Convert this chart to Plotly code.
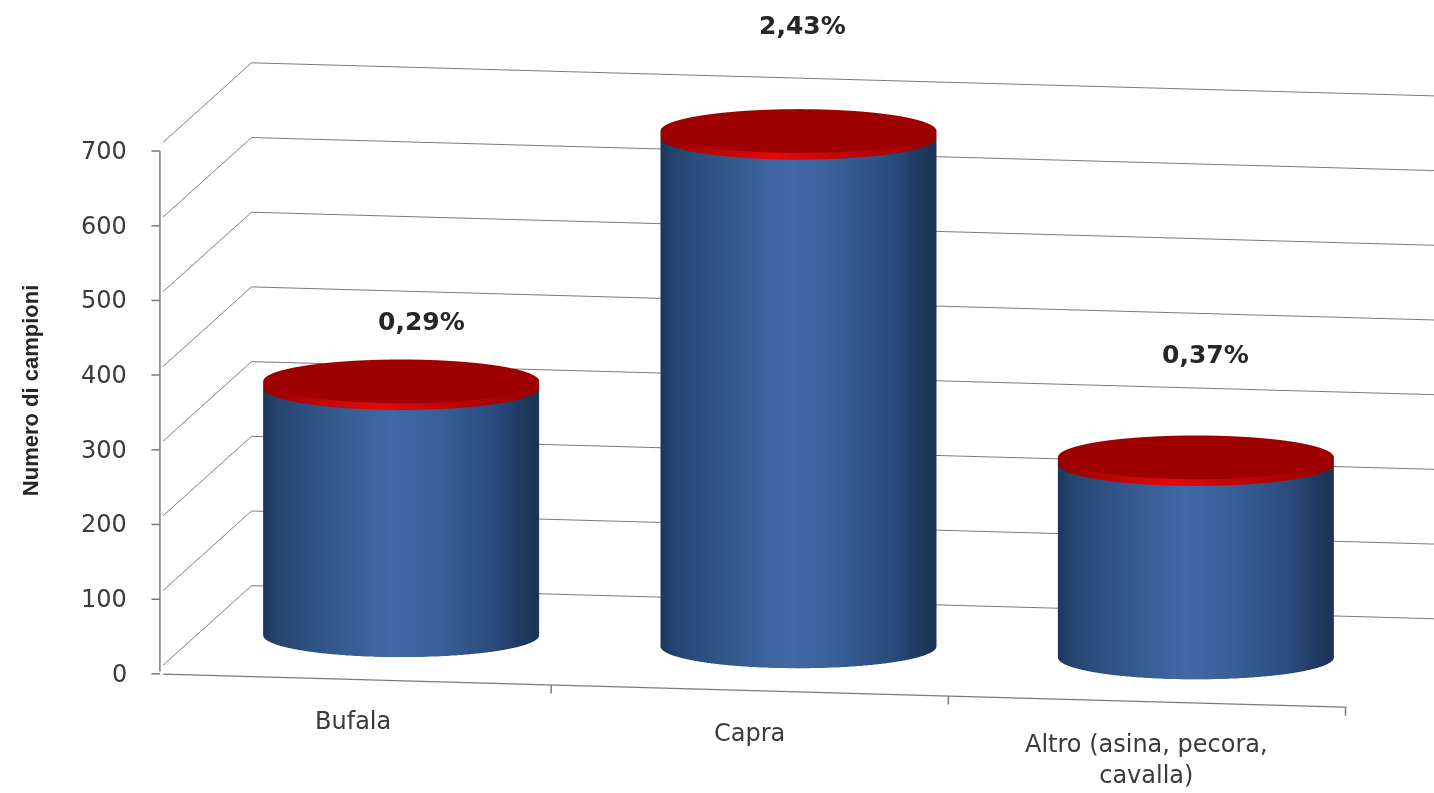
import numpy as np
import plotly.graph_objects as go

# --- data -------------------------------------------------------------
categories = ["Bufala", "Capra", "Altro (asina, pecora,<br>cavalla)"]
campioni = [340, 690, 268]
percentuali = ["0,29%", "2,43%", "0,37%"]
z_ticks = [0, 100, 200, 300, 400, 500, 600, 700]

# --- geometry / styling -------------------------------------------------
RADIUS = 0.342          # cylinder radius, in category units
DEPTH = 1.4             # floor depth, in category units
Y_MID = DEPTH / 2
RIM = 9                 # height of the bright red rim under the cap
TEXT = "#3a3a3a"
GRID = "#7a7a7a"
FONT = "DejaVu Sans"
label_lift = [43, 89, 86]   # pixel gap between cap centre and its value label
label_nudge = [20, 4, 10]   # horizontal nudge of the value labels
ZOOM = 1.572                # orthographic zoom is driven by the aspect ratio
WALL_PX = 522               # on-screen height of the value axis (0 to 700)

side_scale = [
    [0.00, "#1b3356"], [0.10, "#254671"], [0.30, "#325689"],
    [0.55, "#4069a5"], [0.72, "#395f98"], [0.90, "#2a4b7b"], [1.00, "#1c3457"],
]
rim_scale = [[0.0, "#8c0000"], [0.5, "#e40a0a"], [1.0, "#9a0000"]]
top_scale = [[0.0, "#9e0000"], [1.0, "#9e0000"]]
flat = dict(ambient=1.0, diffuse=0.0, specular=0.0, roughness=1.0, fresnel=0.0)

fig = go.Figure()
t = np.linspace(0, 2 * np.pi, 181)
horiz = (1 + np.cos(t)) / 2          # 0 at the left silhouette, 1 at the right

for i, val in enumerate(campioni):
    cx = i
    ring_x = cx + RADIUS * np.cos(t)
    ring_y = Y_MID + RADIUS * np.sin(t)

    # blue body
    zb = np.array([0.0, val - RIM])
    fig.add_trace(go.Surface(
        x=np.tile(ring_x, (2, 1)), y=np.tile(ring_y, (2, 1)),
        z=np.repeat(zb[:, None], t.size, axis=1),
        surfacecolor=np.tile(horiz, (2, 1)), cmin=0, cmax=1,
        colorscale=side_scale, showscale=False, lighting=flat,
        hoverinfo="skip"))

    # red rim just below the cap
    zr = np.array([val - RIM, val])
    fig.add_trace(go.Surface(
        x=np.tile(ring_x, (2, 1)), y=np.tile(ring_y, (2, 1)),
        z=np.repeat(zr[:, None], t.size, axis=1),
        surfacecolor=np.tile(horiz, (2, 1)), cmin=0, cmax=1,
        colorscale=rim_scale, showscale=False, lighting=flat,
        hoverinfo="skip"))

    # red cap
    rr = np.array([0.0, 1.0])[:, None]
    fig.add_trace(go.Surface(
        x=cx + RADIUS * rr * np.cos(t), y=Y_MID + RADIUS * rr * np.sin(t),
        z=np.full((2, t.size), float(val)),
        surfacecolor=np.zeros((2, t.size)), cmin=0, cmax=1,
        colorscale=top_scale, showscale=False, lighting=flat,
        hoverinfo="skip"))

# floor outline
fig.add_trace(go.Scatter3d(
    x=[-0.5, 2.5, 2.5], y=[0, 0, DEPTH], z=[0, 0, 0],
    mode="lines", line=dict(color=GRID, width=2.5),
    hoverinfo="skip", showlegend=False))

# --- annotations --------------------------------------------------------
ann = []
tick_mark = dict(text="", showarrow=True, arrowhead=0, arrowwidth=1.5,
                 arrowcolor=GRID, standoff=0, startstandoff=0)
# value-axis line along the front-left edge
ann.append(dict(x=-0.5, y=0, z=z_ticks[-1], ax=0, ay=WALL_PX, xshift=6,
                **tick_mark))
for v in z_ticks:
    ann.append(dict(x=-0.5, y=0, z=v, text=str(v), showarrow=False,
                    xanchor="right", yanchor="middle", xshift=-25,
                    font=dict(family=FONT, size=24, color=TEXT)))
    ann.append(dict(x=-0.5, y=0, z=v, ax=-10, ay=0, xshift=6, **tick_mark))
for b in [0.5, 1.5, 2.5]:
    ann.append(dict(x=b, y=0, z=0, ax=0, ay=10, **tick_mark))
for i, c in enumerate(categories):
    ann.append(dict(x=i, y=0, z=0, text=c, showarrow=False,
                    xanchor="center", yanchor="top", yshift=-26,
                    font=dict(family=FONT, size=24, color=TEXT)))
for i, (val, p) in enumerate(zip(campioni, percentuali)):
    ann.append(dict(x=i, y=Y_MID, z=val, text="<b>" + p + "</b>", showarrow=False,
                    xanchor="center", yanchor="bottom", xshift=label_nudge[i],
                    yshift=label_lift[i],
                    font=dict(family=FONT, size=25, color="#262626")))

axis_common = dict(showbackground=False, zeroline=False, showspikes=False,
                   title=dict(text=""), showticklabels=False, ticks="",
                   showline=False)

fig.update_layout(
    width=1434, height=793,
    margin=dict(l=0, r=0, t=0, b=0),
    paper_bgcolor="white",
    showlegend=False,
    scene=dict(
        domain=dict(x=[0.114, 1.0], y=[0.029, 1.0]),
        xaxis=dict(range=[-0.5, 2.5], showgrid=False, **axis_common),
        yaxis=dict(range=[0, DEPTH], showgrid=False, **axis_common),
        zaxis=dict(range=[0, 700], tickvals=z_ticks, showgrid=True,
                   gridcolor=GRID, gridwidth=2, **axis_common),
        aspectmode="manual",
        aspectratio=dict(x=2.0 * ZOOM, y=0.933 * ZOOM, z=0.875 * ZOOM),
        camera=dict(
            eye=dict(x=0.1715 * 1.6, y=-0.9727 * 1.6, z=0.1586 * 1.6),
            up=dict(x=0, y=0, z=1),
            center=dict(x=0, y=0, z=0),
            projection=dict(type="orthographic"),
        ),
        annotations=ann,
    ),
    annotations=[dict(
        x=0.0209, y=0.508, xref="paper", yref="paper", xanchor="center",
        yanchor="middle",
        text="<b>Numero di campioni</b>", textangle=-90, showarrow=False,
        font=dict(family="Liberation Sans", size=22, color="#262626"))],
)

fig.write_html("out.html")
